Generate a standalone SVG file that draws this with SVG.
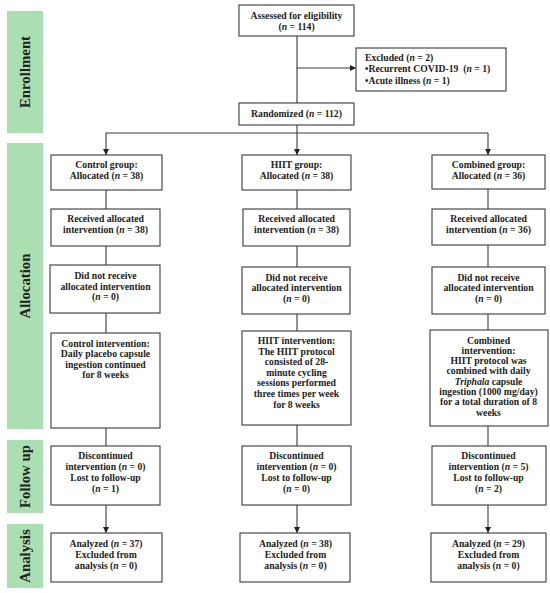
<svg xmlns="http://www.w3.org/2000/svg" width="550" height="593" viewBox="0 0 550 593">
<defs>
<style>
.band{fill:#abdeb0}
.bt{font-family:"Liberation Serif",serif;font-weight:bold;font-size:14.8px;fill:#222;text-anchor:middle}
.box{fill:#fff;stroke:#3a3a3a;stroke-width:1.1}
.t{font-family:"Liberation Serif",serif;font-weight:bold;font-size:9.7px;fill:#222;text-anchor:middle}
.tl{font-family:"Liberation Serif",serif;font-weight:bold;font-size:9.7px;fill:#222;text-anchor:start}
.i{font-style:italic}
.ln{stroke:#3a3a3a;stroke-width:1.1;fill:none}
</style>
<marker id="ah" viewBox="0 0 10 10" refX="10" refY="5" markerWidth="6" markerHeight="6" markerUnits="userSpaceOnUse" orient="auto">
<path d="M0,0 L10,5 L0,10 z" fill="#222"/>
</marker>
</defs>
<rect width="550" height="593" fill="#fff"/>
<g id="bands">
<rect class="band" x="7" y="11" width="36" height="122"/>
<text class="bt" transform="translate(30,72) rotate(-90)">Enrollment</text>
<rect class="band" x="7" y="143" width="36" height="286"/>
<text class="bt" transform="translate(30,286) rotate(-90)">Allocation</text>
<rect class="band" x="7" y="440" width="36" height="73"/>
<text class="bt" transform="translate(30,476.5) rotate(-90)">Follow up</text>
<rect class="band" x="7" y="524" width="36" height="64"/>
<text class="bt" transform="translate(30,556) rotate(-90)">Analysis</text>
</g>
<g id="connectors">
<line class="ln" x1="297" y1="36" x2="297" y2="103"/>
<line class="ln" x1="297" y1="68" x2="356" y2="68" marker-end="url(#ah)"/>
<line class="ln" x1="297" y1="125" x2="297" y2="133"/>
<line class="ln" x1="106" y1="133" x2="488" y2="133"/>
<line class="ln" x1="106" y1="133" x2="106" y2="155" marker-end="url(#ah)"/>
<line class="ln" x1="297" y1="133" x2="297" y2="155" marker-end="url(#ah)"/>
<line class="ln" x1="488" y1="133" x2="488" y2="155" marker-end="url(#ah)"/>
<line class="ln" x1="106" y1="190" x2="106" y2="209"/>
<line class="ln" x1="106" y1="246" x2="106" y2="265"/>
<line class="ln" x1="106" y1="313" x2="106" y2="333"/>
<line class="ln" x1="106" y1="428" x2="106" y2="446"/>
<line class="ln" x1="106" y1="505" x2="106" y2="533" marker-end="url(#ah)"/>
<line class="ln" x1="297" y1="190" x2="297" y2="209"/>
<line class="ln" x1="297" y1="246" x2="297" y2="267"/>
<line class="ln" x1="297" y1="314" x2="297" y2="331"/>
<line class="ln" x1="297" y1="425" x2="297" y2="446"/>
<line class="ln" x1="297" y1="505" x2="297" y2="533" marker-end="url(#ah)"/>
<line class="ln" x1="488" y1="189" x2="488" y2="209"/>
<line class="ln" x1="488" y1="245" x2="488" y2="267"/>
<line class="ln" x1="488" y1="314" x2="488" y2="330"/>
<line class="ln" x1="488" y1="426" x2="488" y2="446"/>
<line class="ln" x1="488" y1="505" x2="488" y2="533" marker-end="url(#ah)"/>
</g>
<g id="assessed">
<rect class="box" x="239" y="5" width="115" height="31"/>
<text class="t" x="296.5" y="19">Assessed for eligibility</text>
<text class="t" x="296.5" y="29.5">(<tspan class="i">n</tspan> = 114)</text>
</g>
<g id="excluded">
<rect class="box" x="356" y="48" width="150" height="43"/>
<text class="tl" x="365" y="60.5">Excluded (<tspan class="i">n</tspan> = 2)</text>
<text class="tl" x="365" y="72.3">•Recurrent COVID-19 &#160;(<tspan class="i">n</tspan> = 1)</text>
<text class="tl" x="365" y="83.5">•Acute illness (<tspan class="i">n</tspan> = 1)</text>
</g>
<g id="randomized">
<rect class="box" x="239" y="103" width="115" height="22"/>
<text class="t" x="296.5" y="116.5">Randomized (<tspan class="i">n</tspan> = 112)</text>
</g>
<g id="control-group">
<rect class="box" x="51" y="155" width="111" height="35"/>
<text class="t" x="106.5" y="168.3">Control group:</text>
<text class="t" x="106.5" y="178.6">Allocated (<tspan class="i">n</tspan> = 38)</text>
</g>
<g id="control-received">
<rect class="box" x="51" y="209" width="109" height="37"/>
<text class="t" x="105.5" y="222.3">Received allocated</text>
<text class="t" x="105.5" y="232.6">intervention (<tspan class="i">n</tspan> = 38)</text>
</g>
<g id="control-notreceived">
<rect class="box" x="50" y="265" width="110" height="48"/>
<text class="t" x="105.5" y="279">Did not receive</text>
<text class="t" x="105.5" y="290">allocated intervention</text>
<text class="t" x="105.5" y="300.3">(<tspan class="i">n</tspan> = 0)</text>
</g>
<g id="control-intervention">
<rect class="box" x="51" y="333" width="109" height="95"/>
<text class="t" x="105.5" y="346.5">Control intervention:</text>
<text class="t" x="105.5" y="357">Daily placebo capsule</text>
<text class="t" x="105.5" y="367.5">ingestion continued</text>
<text class="t" x="105.5" y="378">for 8 weeks</text>
</g>
<g id="control-followup">
<rect class="box" x="51" y="446" width="109" height="59"/>
<text class="t" x="105.5" y="459.3">Discontinued</text>
<text class="t" x="105.5" y="470">intervention (<tspan class="i">n</tspan> = 0)</text>
<text class="t" x="105.5" y="480.5">Lost to follow-up</text>
<text class="t" x="105.5" y="491.5">(<tspan class="i">n</tspan> = 1)</text>
</g>
<g id="control-analyzed">
<rect class="box" x="51" y="533" width="111" height="49"/>
<text class="t" x="106" y="546.5">Analyzed (<tspan class="i">n</tspan> = 37)</text>
<text class="t" x="106" y="557.8">Excluded from</text>
<text class="t" x="106" y="568.5">analysis (<tspan class="i">n</tspan> = 0)</text>
</g>
<g id="hiit-group">
<rect class="box" x="242" y="155" width="109" height="35"/>
<text class="t" x="296.5" y="168.3">HIIT group:</text>
<text class="t" x="296.5" y="178.6">Allocated (<tspan class="i">n</tspan> = 38)</text>
</g>
<g id="hiit-received">
<rect class="box" x="243" y="209" width="107" height="37"/>
<text class="t" x="296.5" y="222.3">Received allocated</text>
<text class="t" x="296.5" y="232.6">intervention (<tspan class="i">n</tspan> = 38)</text>
</g>
<g id="hiit-notreceived">
<rect class="box" x="242" y="267" width="108" height="47"/>
<text class="t" x="296.5" y="280.5">Did not receive</text>
<text class="t" x="296.5" y="291.3">allocated intervention</text>
<text class="t" x="296.5" y="301.5">(<tspan class="i">n</tspan> = 0)</text>
</g>
<g id="hiit-intervention">
<rect class="box" x="242" y="331" width="109" height="94"/>
<text class="t" x="296.5" y="344">HIIT intervention:</text>
<text class="t" x="296.5" y="354.6">The HIIT protocol</text>
<text class="t" x="296.5" y="365.2">consisted of 28-</text>
<text class="t" x="296.5" y="375.8">minute cycling</text>
<text class="t" x="296.5" y="386.4">sessions performed</text>
<text class="t" x="296.5" y="397">three times per week</text>
<text class="t" x="296.5" y="407.6">for 8 weeks</text>
</g>
<g id="hiit-followup">
<rect class="box" x="242" y="446" width="109" height="59"/>
<text class="t" x="296.5" y="459.3">Discontinued</text>
<text class="t" x="296.5" y="470">intervention (<tspan class="i">n</tspan> = 0)</text>
<text class="t" x="296.5" y="480.5">Lost to follow-up</text>
<text class="t" x="296.5" y="491.5">(<tspan class="i">n</tspan> = 0)</text>
</g>
<g id="hiit-analyzed">
<rect class="box" x="240" y="533" width="110" height="49"/>
<text class="t" x="295.5" y="546.5">Analyzed (<tspan class="i">n</tspan> = 38)</text>
<text class="t" x="295.5" y="557.8">Excluded from</text>
<text class="t" x="295.5" y="568.5">analysis (<tspan class="i">n</tspan> = 0)</text>
</g>
<g id="combined-group">
<rect class="box" x="432" y="155" width="113" height="34"/>
<text class="t" x="488.5" y="168.3">Combined group:</text>
<text class="t" x="488.5" y="178.6">Allocated (<tspan class="i">n</tspan> = 36)</text>
</g>
<g id="combined-received">
<rect class="box" x="432" y="209" width="113" height="36"/>
<text class="t" x="488.5" y="222.3">Received allocated</text>
<text class="t" x="488.5" y="232.6">intervention (<tspan class="i">n</tspan> = 36)</text>
</g>
<g id="combined-notreceived">
<rect class="box" x="432" y="267" width="113" height="47"/>
<text class="t" x="488.5" y="280.5">Did not receive</text>
<text class="t" x="488.5" y="291.3">allocated intervention</text>
<text class="t" x="488.5" y="301.5">(<tspan class="i">n</tspan> = 0)</text>
</g>
<g id="combined-intervention">
<rect class="box" x="430" y="330" width="118" height="96"/>
<text class="t" x="488.5" y="343.5">Combined</text>
<text class="t" x="488.5" y="353.8">intervention:</text>
<text class="t" x="488.5" y="364.1">HIIT protocol was</text>
<text class="t" x="488.5" y="374.4">combined with daily</text>
<text class="t" x="488.5" y="384.7"><tspan class="i">Triphala</tspan> capsule</text>
<text class="t" x="488.5" y="395">ingestion (1000 mg/day)</text>
<text class="t" x="488.5" y="405.3">for a total duration of 8</text>
<text class="t" x="488.5" y="415.6">weeks</text>
</g>
<g id="combined-followup">
<rect class="box" x="432" y="446" width="114" height="59"/>
<text class="t" x="488.5" y="459.3">Discontinued</text>
<text class="t" x="488.5" y="470">intervention (<tspan class="i">n</tspan> = 5)</text>
<text class="t" x="488.5" y="480.5">Lost to follow-up</text>
<text class="t" x="488.5" y="491.5">(<tspan class="i">n</tspan> = 2)</text>
</g>
<g id="combined-analyzed">
<rect class="box" x="431" y="533" width="115" height="49"/>
<text class="t" x="488.5" y="546.5">Analyzed (<tspan class="i">n</tspan> = 29)</text>
<text class="t" x="488.5" y="557.8">Excluded from</text>
<text class="t" x="488.5" y="568.5">analysis (<tspan class="i">n</tspan> = 0)</text>
</g>
</svg>
